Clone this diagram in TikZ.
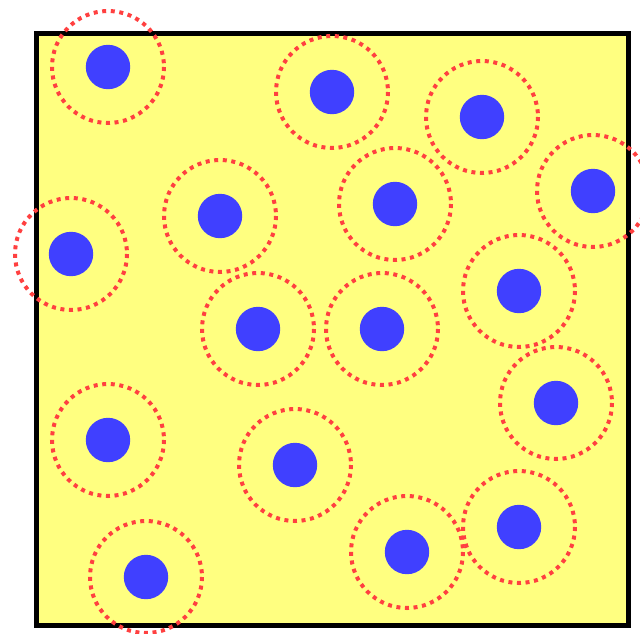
\documentclass[tikz,border=0pt]{standalone}
\definecolor{bgyellow}{HTML}{FFFF80}
\definecolor{dotblue}{HTML}{4040FF}
\definecolor{ringred}{HTML}{FF4040}
\tikzset{
  boxframe/.style={draw=black, fill=bgyellow, line width=5pt},
  particle/.style={fill=dotblue},
  ring/.style={draw=ringred, line width=4pt, dash pattern=on 4pt off 4.6pt}
}
\begin{document}
\begin{tikzpicture}[x=1pt,y=-1pt]
\useasboundingbox (0,0) rectangle (640,633);
\draw[boxframe] (36.5,33) rectangle (628.5,625);
\foreach \x/\y in {108/67,332/92,482/117,593/191,395/204,220/216,71/254,519/291,258/329,382/329,556/403,108/440,295/465,519/527,407/552,146/577}{
  \fill[particle] (\x,\y) circle (22.2);
  \draw[ring] (\x,\y) circle (56);
}
\end{tikzpicture}
\end{document}
